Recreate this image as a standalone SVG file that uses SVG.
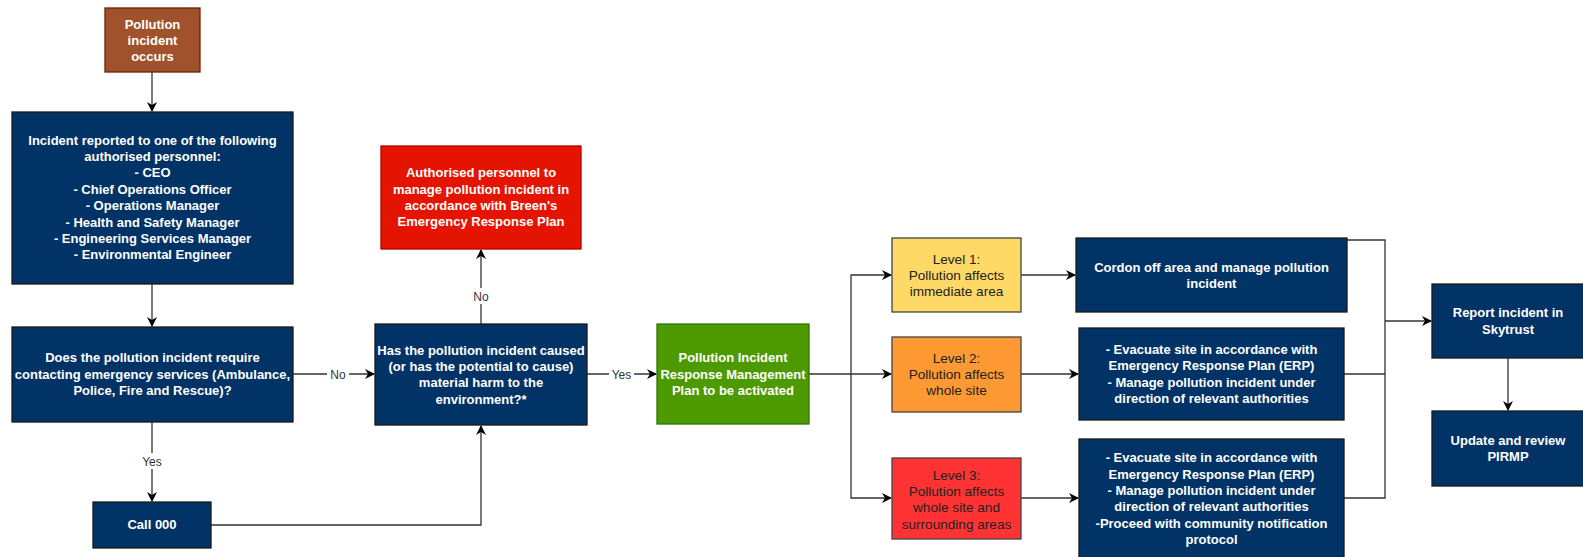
<svg xmlns="http://www.w3.org/2000/svg" width="1583" height="557" viewBox="0 0 1583 557">
<style>
.nav{fill:#023366;stroke:#1a1a1a;stroke-width:1.3}
.w{font-family:"Liberation Sans",Arial,sans-serif;font-size:13px;font-weight:bold;fill:#ffffff;text-anchor:middle}
.d{font-family:"Liberation Sans",Arial,sans-serif;font-size:13.6px;fill:#222222;text-anchor:middle}
.lbl{font-family:"Liberation Sans",Arial,sans-serif;font-size:12px;fill:#333333;text-anchor:middle}
.c{fill:none;stroke:#333333;stroke-width:1.3}
.lb{fill:#ffffff}
</style>
<defs>
<marker id="arr" viewBox="0 0 10 10" refX="9" refY="5" markerWidth="10" markerHeight="10" markerUnits="userSpaceOnUse" orient="auto">
<path d="M0,0 L10,5 L0,10 L3,5 z" fill="#000000"/>
</marker>
</defs>
<rect width="1583" height="557" fill="#ffffff"/>

<g id="connectors">
<path class="c" d="M152,72 L152,111" marker-end="url(#arr)"/>
<path class="c" d="M152,284 L152,326" marker-end="url(#arr)"/>
<path class="c" d="M152,422 L152,501" marker-end="url(#arr)"/>
<path class="c" d="M293,374 L374,374" marker-end="url(#arr)"/>
<path class="c" d="M211,525 L481,525 L481,426" marker-end="url(#arr)"/>
<path class="c" d="M481,324 L481,250" marker-end="url(#arr)"/>
<path class="c" d="M587,374 L656,374" marker-end="url(#arr)"/>
<path class="c" d="M809,374 L891,374" marker-end="url(#arr)"/>
<path class="c" d="M851,374 L851,275 L891,275" marker-end="url(#arr)"/>
<path class="c" d="M851,374 L851,498 L891,498" marker-end="url(#arr)"/>
<path class="c" d="M1021,275 L1075,275" marker-end="url(#arr)"/>
<path class="c" d="M1021,374 L1078,374" marker-end="url(#arr)"/>
<path class="c" d="M1021,498 L1078,498" marker-end="url(#arr)"/>
<path class="c" d="M1347,240 L1385,240 L1385,498 L1344,498"/>
<path class="c" d="M1344,374 L1385,374"/>
<path class="c" d="M1385,321 L1431,321" marker-end="url(#arr)"/>
<path class="c" d="M1508,358 L1508,410" marker-end="url(#arr)"/>
<rect class="lb" x="140" y="453" width="24" height="16"/>
<text class="lbl" x="152" y="466">Yes</text>
<rect class="lb" x="327" y="367" width="22" height="15"/>
<text class="lbl" x="338" y="378.5">No</text>
<rect class="lb" x="470" y="288" width="22" height="16"/>
<text class="lbl" x="481" y="300.5">No</text>
<rect class="lb" x="609" y="367" width="25" height="15"/>
<text class="lbl" x="621.5" y="378.5">Yes</text>
</g>

<g id="n-occurs">
<rect x="105" y="8" width="95" height="64" fill="#A0522D" stroke="#6D1F00" stroke-width="1.3"/>
<text class="w"><tspan x="152.5" y="28.5">Pollution</tspan><tspan x="152.5" y="44.8">incident</tspan><tspan x="152.5" y="61.2">occurs</tspan></text>
</g>

<g id="n-reported">
<rect class="nav" x="12" y="112" width="281" height="172"/>
<text class="w"><tspan x="152.5" y="144.5">Incident reported to one of the following</tspan><tspan x="152.5" y="160.9">authorised personnel:</tspan><tspan x="152.5" y="177.3">- CEO</tspan><tspan x="152.5" y="193.7">- Chief Operations Officer</tspan><tspan x="152.5" y="210.1">- Operations Manager</tspan><tspan x="152.5" y="226.5">- Health and Safety Manager</tspan><tspan x="152.5" y="242.9">- Engineering Services Manager</tspan><tspan x="152.5" y="259.3">- Environmental Engineer</tspan></text>
</g>

<g id="n-emergency">
<rect class="nav" x="12" y="327" width="281" height="95"/>
<text class="w"><tspan x="152.5" y="362.2">Does the pollution incident require</tspan><tspan x="152.5" y="378.6">contacting emergency services (Ambulance,</tspan><tspan x="152.5" y="395">Police, Fire and Rescue)?</tspan></text>
</g>

<g id="n-call">
<rect class="nav" x="93" y="502" width="118" height="46"/>
<text class="w" x="152" y="529">Call 000</text>
</g>

<g id="n-harm">
<rect class="nav" x="375" y="324" width="212" height="101"/>
<text class="w"><tspan x="481" y="354.5">Has the pollution incident caused</tspan><tspan x="481" y="370.9">(or has the potential to cause)</tspan><tspan x="481" y="387.3">material harm to the</tspan><tspan x="481" y="403.7">environment?*</tspan></text>
</g>

<g id="n-authorised">
<rect x="381" y="146" width="200" height="103" fill="#E51400" stroke="#B20000" stroke-width="1.3"/>
<text class="w"><tspan x="481" y="177.2">Authorised personnel to</tspan><tspan x="481" y="193.6">manage pollution incident in</tspan><tspan x="481" y="210">accordance with Breen's</tspan><tspan x="481" y="226.4">Emergency Response Plan</tspan></text>
</g>

<g id="n-pirmp">
<rect x="657" y="324" width="152" height="100" fill="#4D9900" stroke="#2D7600" stroke-width="1.3"/>
<text class="w"><tspan x="733" y="362.2">Pollution Incident</tspan><tspan x="733" y="378.6">Response Management</tspan><tspan x="733" y="395">Plan to be activated</tspan></text>
</g>

<g id="n-level1">
<rect x="892" y="238" width="129" height="74" fill="#FFD966" stroke="#444444" stroke-width="1.3"/>
<text class="d"><tspan x="956.5" y="263.7">Level 1:</tspan><tspan x="956.5" y="280">Pollution affects</tspan><tspan x="956.5" y="296.3">immediate area</tspan></text>
</g>

<g id="n-level2">
<rect x="892" y="337" width="129" height="75" fill="#FF9933" stroke="#444444" stroke-width="1.3"/>
<text class="d"><tspan x="956.5" y="362.5">Level 2:</tspan><tspan x="956.5" y="378.8">Pollution affects</tspan><tspan x="956.5" y="395.1">whole site</tspan></text>
</g>

<g id="n-level3">
<rect x="892" y="458" width="129" height="81" fill="#FF3333" stroke="#444444" stroke-width="1.3"/>
<text class="d"><tspan x="956.5" y="479.6">Level 3:</tspan><tspan x="956.5" y="495.9">Pollution affects</tspan><tspan x="956.5" y="512.2">whole site and</tspan><tspan x="956.5" y="528.5">surrounding areas</tspan></text>
</g>

<g id="n-cordon">
<rect class="nav" x="1076" y="238" width="271" height="74"/>
<text class="w"><tspan x="1211.5" y="271.5">Cordon off area and manage pollution</tspan><tspan x="1211.5" y="287.9">incident</tspan></text>
</g>

<g id="n-evac1">
<rect class="nav" x="1079" y="328" width="265" height="92"/>
<text class="w"><tspan x="1211.5" y="354">- Evacuate site in accordance with</tspan><tspan x="1211.5" y="370.4">Emergency Response Plan (ERP)</tspan><tspan x="1211.5" y="386.8">- Manage pollution incident under</tspan><tspan x="1211.5" y="403.2">direction of relevant authorities</tspan></text>
</g>

<g id="n-evac2">
<rect class="nav" x="1079" y="439" width="265" height="120"/>
<text class="w"><tspan x="1211.5" y="462.2">- Evacuate site in accordance with</tspan><tspan x="1211.5" y="478.6">Emergency Response Plan (ERP)</tspan><tspan x="1211.5" y="495">- Manage pollution incident under</tspan><tspan x="1211.5" y="511.4">direction of relevant authorities</tspan><tspan x="1211.5" y="527.8">-Proceed with community notification</tspan><tspan x="1211.5" y="544.2">protocol</tspan></text>
</g>

<g id="n-report">
<rect class="nav" x="1432" y="284" width="153" height="74"/>
<text class="w"><tspan x="1508" y="317.3">Report incident in</tspan><tspan x="1508" y="333.7">Skytrust</tspan></text>
</g>

<g id="n-update">
<rect class="nav" x="1432" y="411" width="153" height="75"/>
<text class="w"><tspan x="1508" y="444.5">Update and review</tspan><tspan x="1508" y="460.9">PIRMP</tspan></text>
</g>
</svg>
